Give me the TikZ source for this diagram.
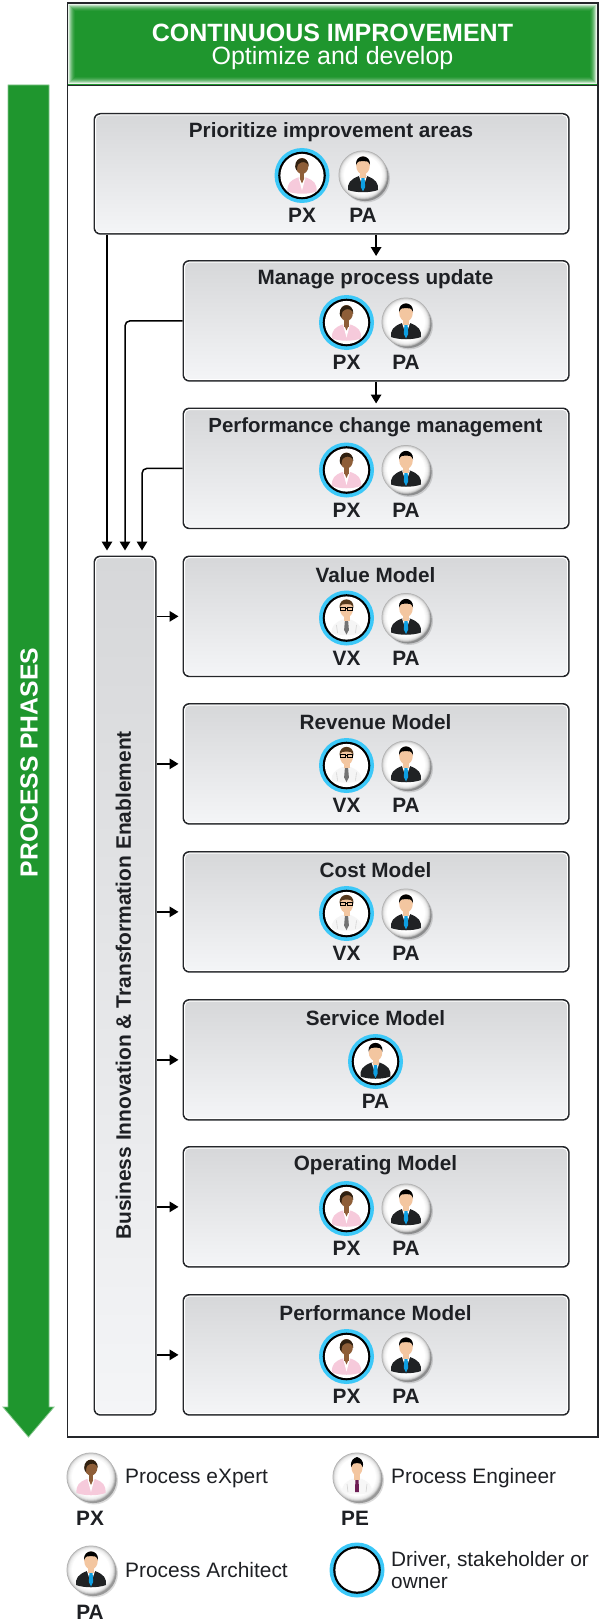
\documentclass[tikz,border=0pt]{standalone}
\usepackage{fontspec}
\setmainfont{Liberation Sans}
\usetikzlibrary{arrows.meta,calc,shadings}
\definecolor{grn}{HTML}{1F962E}
\definecolor{edge}{HTML}{24262A}
\definecolor{ringb}{HTML}{3CC8F8}
\definecolor{skinl}{HTML}{F3C6A0}
\definecolor{skind}{HTML}{8E5E38}
\definecolor{pinks}{HTML}{F6CADB}
\definecolor{tieb}{HTML}{0E9FE2}
\definecolor{tiem}{HTML}{6E1F55}
\definecolor{suit}{HTML}{202224}
\definecolor{txt}{HTML}{1E2024}
\definecolor{boxtop}{HTML}{D6D7D9}
\definecolor{boxbot}{HTML}{F4F5F7}
\newcommand{\fs}[1]{\fontsize{#1}{#1}\selectfont}
\tikzset{
  x=1pt,y=-1pt,
  stagebox/.style={rounded corners=6pt,draw=edge,line width=1.7pt,top color=boxtop,bottom color=boxbot},
  title/.style={font=\bfseries\fs{20.7},text=txt,inner sep=0pt},
  tag/.style={font=\bfseries\fs{20.8},text=txt,inner sep=0pt},
  legendtext/.style={font=\fs{20.9},text=txt,inner sep=0pt,anchor=west,align=left},
  arr/.style={draw=black,line width=1.5pt,-{Triangle[length=9pt,width=10.5pt]},shorten >=4pt},
  elbow/.style={arr,rounded corners=5pt,shorten >=5pt},
  avsphere/.pic={
    \fill[black,opacity=.14] (3,3.5) circle[radius=24];
    \fill[black,opacity=.3] (2.2,2.6) circle[radius=23.5];
    \foreach \r/\g in {24.5/32,24/25,23.5/19,23/14,22.5/10,22/7,21/4,20/2,19/0}
      \fill[black!\g!white] (0,0) circle[radius=\r];
  },
  avring/.pic={
    \fill[ringb] (0,0) circle[radius=27.5];
    \fill[black] (0,0) circle[radius=23.8];
    \fill[white] (0,0) circle[radius=21.6];
  },
  pxb/.pic={
    \fill[pinks] (-14.5,16) .. controls (-15,8) and (-12,5) .. (-4,2) -- (4,2) .. controls (12,5) and (15,8) .. (14.5,16) .. controls (6,19) and (-6,19) .. (-14.5,16) -- cycle;
    \fill[white] (-3.5,2) -- (0,15) -- (3.5,2) -- cycle;
    \fill[skind] (-2.2,-4) rectangle (2.2,4);
    \fill[skind] (-2.2,3) -- (2.2,3) -- (0,8) -- cycle;
    \fill[skind] (0,-9.5) ellipse[x radius=6.4,y radius=8];
    \fill[black!75!brown] (-6.8,-9) .. controls (-7,-20) and (7,-20) .. (6.8,-9) .. controls (6,-13) and (2,-14) .. (-1,-13) .. controls (-3,-12) and (-5,-12) .. (-5,-5) .. controls (-6,-6) and (-6.8,-7) .. (-6.8,-9) -- cycle;
  },
  pab/.pic={
    \fill[suit] (-15,15) .. controls (-15.5,8) and (-13,4.5) .. (-4,1) -- (4,1) .. controls (13,4.5) and (15.5,8) .. (15,15) .. controls (7,18) and (-7,18) .. (-15,15) -- cycle;
    \fill[white] (-4,1) -- (0,13) -- (4,1) -- cycle;
    \fill[tieb] (-1.6,3) -- (1.6,3) -- (2.2,12) -- (0,16.5) -- (-2.2,12) -- cycle;
    \fill[skinl] (-3,-4) rectangle (3,3);
    \fill[skinl] (0,-9.5) ellipse[x radius=6.8,y radius=9];
    \fill[black] (-7,-10) .. controls (-8,-21.5) and (8,-21.5) .. (7,-10) .. controls (6,-13.5) and (3,-14.5) .. (0,-14) .. controls (-3,-14.5) and (-6,-13.5) .. (-7,-10) -- cycle;
  },
  vxb/.pic={
    \fill[black!4] (-15,15) .. controls (-15,8) and (-12,5) .. (-4,1.5) -- (4,1.5) .. controls (12,5) and (15,8) .. (15,15) .. controls (7,18) and (-7,18) .. (-15,15) -- cycle;
    \draw[black!18,line width=.6pt] (-10,7) -- (-9,15) (10,7) -- (9,15);
    \fill[black!55] (-1.6,2.5) -- (1.6,2.5) -- (2.4,12) -- (0,16.5) -- (-2.4,12) -- cycle;
    \fill[skinl] (-3,-4) rectangle (3,2.5);
    \fill[skinl] (0,-9.5) ellipse[x radius=6.6,y radius=9];
    \fill[black!55!brown] (-7,-10) .. controls (-8,-21.5) and (8,-21.5) .. (7,-10) .. controls (6,-13.5) and (3,-14.5) .. (0,-14) .. controls (-3,-14.5) and (-6,-13.5) .. (-7,-10) -- cycle;
    \draw[black,line width=.8pt] (-6,-11) rectangle (-1,-8) (1,-11) rectangle (6,-8) (-1,-10) -- (1,-10);
  },
  peb/.pic={
    \fill[black!3] (-15,15) .. controls (-15,8) and (-12,5) .. (-4,1.5) -- (4,1.5) .. controls (12,5) and (15,8) .. (15,15) .. controls (7,18) and (-7,18) .. (-15,15) -- cycle;
    \draw[black!18,line width=.6pt] (-10,7) -- (-9,15) (10,7) -- (9,15);
    \fill[tiem] (-1.6,2.5) -- (1.6,2.5) -- (2,15) -- (-2,15) -- cycle;
    \fill[skinl] (-3,-4) rectangle (3,2.5);
    \fill[skinl] (0,-10) ellipse[x radius=5.6,y radius=8.5];
    \fill[black] (-5.8,-10) .. controls (-7,-17) and (-3,-19) .. (0,-20) .. controls (3,-19) and (7,-17) .. (5.8,-10) .. controls (5,-13) and (3,-14.5) .. (0,-14) .. controls (-3,-14.5) and (-5,-13) .. (-5.8,-10) -- cycle;
  },
}
% #1 name, #2 left x, #3 right x, #4 top y, #5 title, #6 title x
\newcommand{\stagebox}[6]{%
  \node[stagebox,anchor=north west,minimum width=#3pt-#2pt,minimum height=120pt,inner sep=0pt] (#1) at (#2,#4) {};
  \draw[white,line width=1pt,rounded corners=5pt] ($(#1.north west)+(2,2)$) rectangle ($(#1.south east)+(-2,-2)$);
  \node[title] (#1-t) at (#6,#4+19.5) {#5};
}
% #1 name, #2 x, #3 y-top, #4 body pic, #5 label
\newcommand{\driver}[5]{%
  \pic at (#2,#3+62.5) {avring};
  \pic at (#2,#3+62.5) {#4};
  \node[tag] (#1) at (#2,#3+102.5) {#5};
}
\newcommand{\plain}[5]{%
  \pic at (#2,#3+62) {avsphere};
  \pic at (#2,#3+62) {#4};
  \node[tag] (#1) at (#2,#3+102.5) {#5};
}
\begin{document}
\begin{tikzpicture}
\useasboundingbox (0,0) rectangle (600,1624);
% banner
\filldraw[fill=grn,draw=grn!55!white,line width=.8pt] (8,85) -- (49,85) -- (49,1407) -- (54,1407) -- (28.5,1437) -- (3,1407) -- (8,1407) -- cycle;
\node[rotate=90,font=\bfseries\fs{24.7},text=white,inner sep=0pt] (phases) at (29,762.5) {PROCESS PHASES};
% frame
\draw[edge,line width=1.8pt] (67.5,3) rectangle (598,1437);
\fill[grn] (68,4) rectangle (597,85);
\foreach \i/\o in {0.5/.9,1.5/.7,2.5/.5,3.5/.35,4.5/.22,5.5/.12,6.5/.05}
  \draw[white,opacity=\o,line width=1pt] (68+\i,4+\i) rectangle (597-\i,84.5-\i);
\draw[edge,line width=1.8pt] (67.5,85.5) -- (598,85.5);
\node[font=\bfseries\fs{25},text=white,inner sep=0pt] (head1) at (332.5,33) {CONTINUOUS IMPROVEMENT};
\node[font=\fs{25},text=white,inner sep=0pt] (head2) at (332.5,58.5) {Optimize and develop};
% stages
\stagebox{s1}{93.5}{568}{113}{Prioritize improvement areas}{331}
\stagebox{s2}{182.5}{568}{260}{Manage process update}{375.5}
\stagebox{s3}{182.5}{568}{407.5}{\fs{20.45}Performance change management}{375.5}
\stagebox{s4}{182.5}{568}{555.5}{Value Model}{375.5}
\stagebox{s5}{182.5}{568}{703}{Revenue Model}{375.5}
\stagebox{s6}{182.5}{568}{851}{Cost Model}{375.5}
\stagebox{s7}{182.5}{568}{999}{Service Model}{375.5}
\stagebox{s8}{182.5}{568}{1146}{Operating Model}{375.5}
\stagebox{s9}{182.5}{568}{1294}{Performance Model}{375.5}
% tall box
\node[stagebox,anchor=north west,minimum width=61.5pt,minimum height=858.5pt,inner sep=0pt] (tall) at (93.5,555.5) {};
\draw[white,line width=1pt,rounded corners=5pt] ($(tall.north west)+(2,2)$) rectangle ($(tall.south east)+(-2,-2)$);
\node[rotate=90,font=\bfseries\fs{20.95},text=txt,inner sep=0pt] (talltext) at (123.5,985.5) {Business Innovation \& Transformation Enablement};
% people
\driver{a1}{302}{113}{pxb}{PX}\plain{b1}{363}{113}{pab}{PA}
\driver{a2}{346.5}{260}{pxb}{PX}\plain{b2}{406}{260}{pab}{PA}
\driver{a3}{346.5}{407.5}{pxb}{PX}\plain{b3}{406}{407.5}{pab}{PA}
\driver{a4}{346.5}{555.5}{vxb}{VX}\plain{b4}{406}{555.5}{pab}{PA}
\driver{a5}{346.5}{703}{vxb}{VX}\plain{b5}{406}{703}{pab}{PA}
\driver{a6}{346.5}{851}{vxb}{VX}\plain{b6}{406}{851}{pab}{PA}
\driver{a7}{375.5}{999}{pab}{PA}
\driver{a8}{346.5}{1146}{pxb}{PX}\plain{b8}{406}{1146}{pab}{PA}
\driver{a9}{346.5}{1294}{pxb}{PX}\plain{b9}{406}{1294}{pab}{PA}
% connectors
\coordinate (t1) at (107,555.5);
\coordinate (t2) at (125,555.5);
\coordinate (t3) at (142,555.5);
\draw[arr] (s2.north |- s1.south) -- (s2.north);
\draw[arr] (s3.north |- s2.south) -- (s3.north);
\draw[arr,shorten >=5pt] (t1 |- s1.south) -- (t1);
\draw[elbow] (s2.west) -- (t2 |- s2.west) -- (t2);
\draw[elbow] (s3.west) -- (t3 |- s3.west) -- (t3);
\foreach \s in {s4,s5,s6,s7,s8,s9}
  \draw[arr] (tall.east |- \s.west) -- (\s.west);
% legend
\pic at (91,1477) {avsphere}; \pic at (91,1477) {pxb};
\node[tag] (lpx) at (90,1518) {PX};
\node[legendtext] (lpxt) at (125,1478.5) {Process eXpert};
\pic at (357,1477) {avsphere}; \pic at (357,1477) {peb};
\node[tag] (lpe) at (355,1518) {PE};
\node[legendtext] (lpet) at (391,1478.5) {Process Engineer};
\pic at (91,1570) {avsphere}; \pic at (91,1570) {pab};
\node[tag] (lpa) at (90,1612) {PA};
\node[legendtext] (lpat) at (125,1570.5) {Process Architect};
\pic at (357,1570) {avring};
\node[legendtext,font=\fontsize{20.8}{22}\selectfont] (ldr) at (391,1570) {Driver, stakeholder or\\owner};
\end{tikzpicture}
\end{document}
